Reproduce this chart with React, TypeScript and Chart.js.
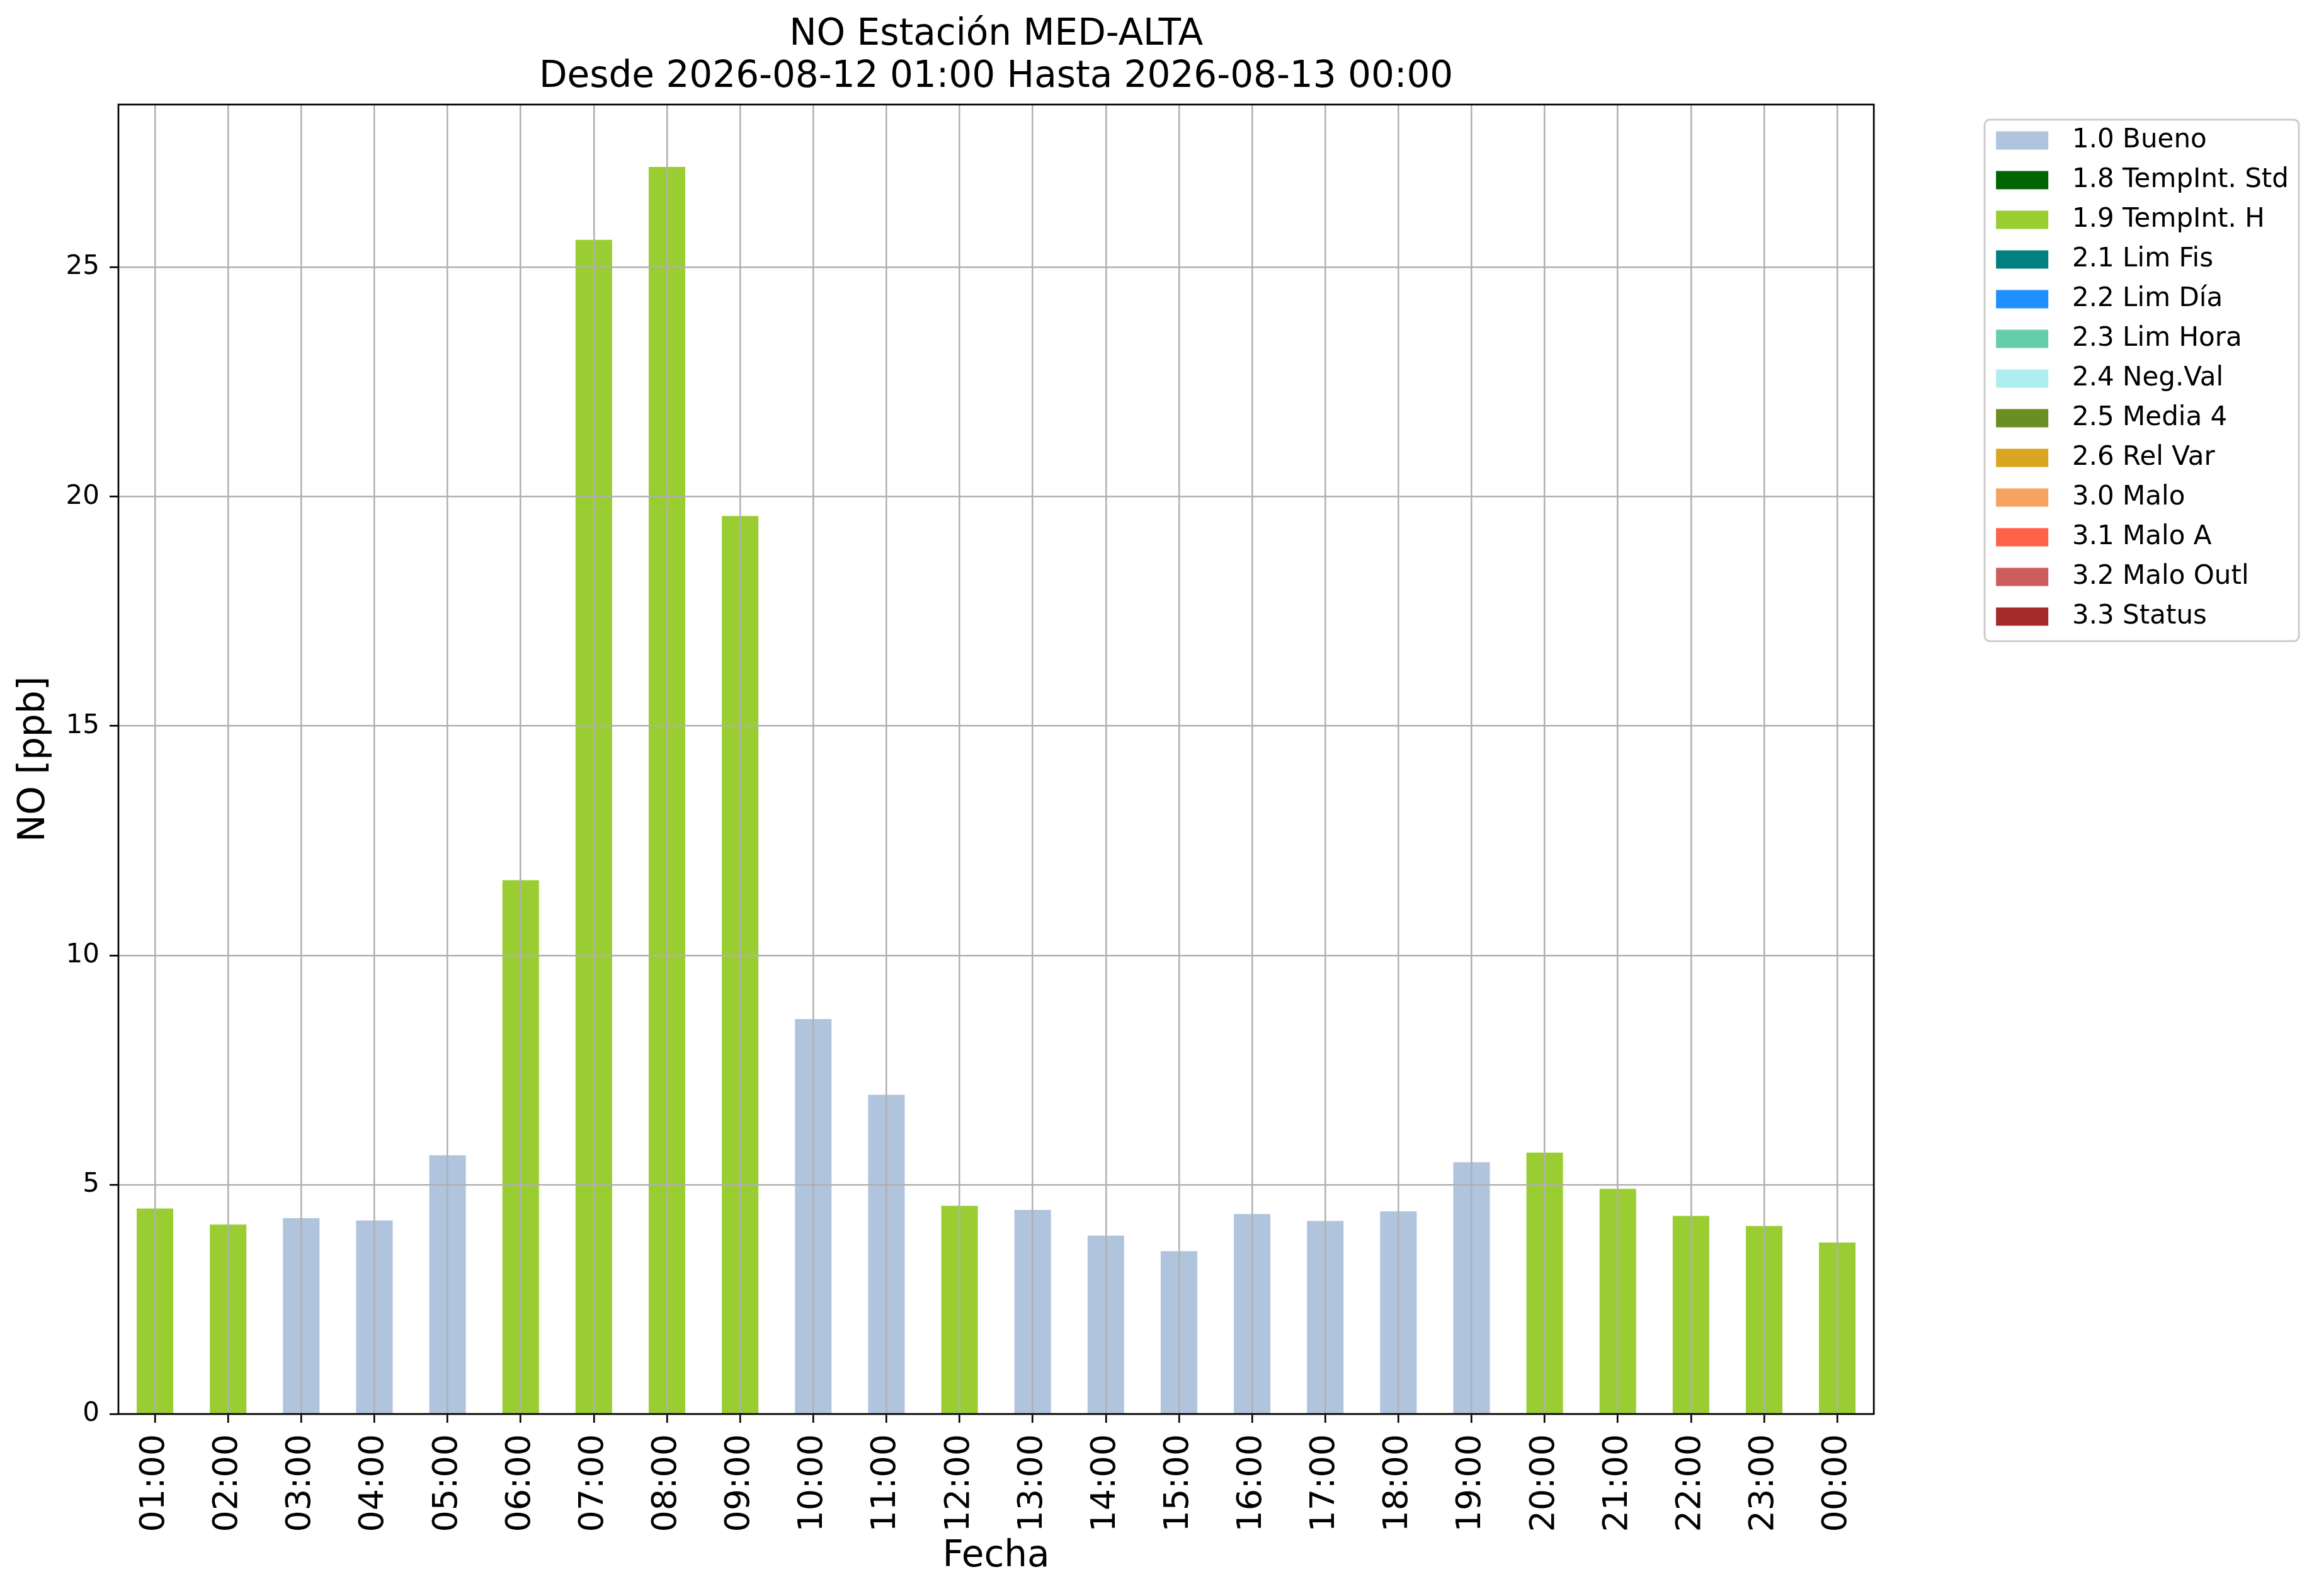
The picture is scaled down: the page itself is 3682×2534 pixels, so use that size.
import React, { useEffect, useRef } from 'react';
import { Chart, registerables } from 'chart.js';

Chart.register(...registerables);

// --- data ---
const hours = [
  '01:00', '02:00', '03:00', '04:00', '05:00', '06:00', '07:00', '08:00',
  '09:00', '10:00', '11:00', '12:00', '13:00', '14:00', '15:00', '16:00',
  '17:00', '18:00', '19:00', '20:00', '21:00', '22:00', '23:00', '00:00',
];
const noValues = [
  4.48, 4.13, 4.27, 4.22, 5.64, 11.64, 25.6, 27.19,
  19.58, 8.61, 6.96, 4.54, 4.45, 3.89, 3.55, 4.36,
  4.21, 4.42, 5.49, 5.7, 4.91, 4.32, 4.1, 3.74,
];
// validation flag of each hour
const hourFlags = [
  '1.9', '1.9', '1.0', '1.0', '1.0', '1.9', '1.9', '1.9',
  '1.9', '1.0', '1.0', '1.9', '1.0', '1.0', '1.0', '1.0',
  '1.0', '1.0', '1.0', '1.9', '1.9', '1.9', '1.9', '1.9',
];
const flagCodes = ['1.0', '1.8', '1.9', '2.1', '2.2', '2.3', '2.4', '2.5', '2.6', '3.0', '3.1', '3.2', '3.3'];
const flagNames = [
  '1.0 Bueno', '1.8 TempInt. Std', '1.9 TempInt. H', '2.1 Lim Fis', '2.2 Lim Día',
  '2.3 Lim Hora', '2.4 Neg.Val', '2.5 Media 4', '2.6 Rel Var', '3.0 Malo',
  '3.1 Malo A', '3.2 Malo Outl', '3.3 Status',
];
const flagColors = [
  '#B0C4DE', '#006400', '#9ACD32', '#008080', '#1E90FF', '#66CDAA', '#AFEEEE',
  '#6B8E23', '#DAA520', '#F4A460', '#FF6347', '#CD5C5C', '#A52A2A',
];
const yTicks = [0, 5, 10, 15, 20, 25];
const yMax = 28.55;

const FONT = "'DejaVu Sans', sans-serif";

// matplotlib-like frame: axes spines + rounded legend box
const framePlugin = {
  id: 'mplFrame',
  afterDraw(chart: any) {
    const { ctx, chartArea: a, legend } = chart;
    ctx.save();
    ctx.strokeStyle = '#000';
    ctx.lineWidth = 2.7;
    ctx.strokeRect(a.left, a.top, a.right - a.left, a.bottom - a.top);

    const hb = legend && legend.legendHitBoxes;
    if (hb && hb.length) {
      const first = hb[0];
      const last = hb[hb.length - 1];
      const right = Math.max(...hb.map((h: any) => h.left + h.width));
      const x0 = first.left - 18;
      const y0 = first.top - 12;
      const x1 = right + 16;
      const y1 = last.top + last.height + 18;
      ctx.strokeStyle = '#cccccc';
      ctx.lineWidth = 3;
      ctx.beginPath();
      ctx.roundRect(x0, y0, x1 - x0, y1 - y0, 8);
      ctx.stroke();
    }
    ctx.restore();
  },
};

export default function App() {
  const canvasRef = useRef<HTMLCanvasElement | null>(null);

  useEffect(() => {
    if (!canvasRef.current) return;
    Chart.defaults.font.family = FONT;
    Chart.defaults.color = '#000';

    const datasets = flagCodes.map((code, k) => ({
      label: flagNames[k],
      data: noValues.map((v, i) => (hourFlags[i] === code ? v : null)),
      backgroundColor: flagColors[k],
      borderWidth: 0,
      barPercentage: 0.5,
      categoryPercentage: 1.0,
    }));

    const chart = new Chart(canvasRef.current, {
      type: 'bar',
      data: { labels: hours, datasets },
      plugins: [framePlugin],
      options: {
        animation: false,
        responsive: false,
        devicePixelRatio: 1,
        layout: { padding: { left: 0, top: 0, right: 38, bottom: 0 } },
        scales: {
          x: {
            stacked: true,
            offset: true,
            afterFit: (s: any) => { s.height = 289; },
            grid: {
              offset: false,
              color: '#b0b0b0',
              lineWidth: 2.5,
              tickColor: '#000',
              tickWidth: 2.7,
              tickLength: 14,
              z: 1,
            },
            border: { display: false },
            ticks: {
              autoSkip: false,
              minRotation: 90,
              maxRotation: 90,
              padding: 18,
              color: '#000',
              font: { size: 54 },
            },
            title: {
              display: true,
              text: 'Fecha',
              color: '#000',
              font: { size: 58, lineHeight: 1.2 },
              padding: { top: 0, bottom: 27 },
            },
          },
          y: {
            stacked: true,
            min: 0,
            max: yMax,
            afterFit: (s: any) => { s.width = 188; },
            afterBuildTicks: (s: any) => { s.ticks = yTicks.map((v) => ({ value: v })); },
            grid: {
              color: '#b0b0b0',
              lineWidth: 2.5,
              tickColor: '#000',
              tickWidth: 2.7,
              tickLength: 14,
              z: 1,
            },
            border: { display: false },
            ticks: {
              padding: 16,
              color: '#000',
              font: { size: 42 },
            },
            title: {
              display: true,
              text: 'NO [ppb]',
              color: '#000',
              font: { size: 58, lineHeight: 1.2 },
              padding: { top: 20, bottom: 0 },
            },
          },
          // empty right axis: only keeps the gap between the plot and the legend
          gap: {
            type: 'linear',
            position: 'right',
            display: true,
            afterFit: (s: any) => { s.width = 173; },
            grid: { display: false, drawTicks: false },
            border: { display: false },
            ticks: { display: false },
          },
        },
        plugins: {
          title: {
            display: true,
            fullSize: false,
            text: ['NO Estación MED-ALTA', 'Desde 2026-08-12 01:00 Hasta 2026-08-13 00:00'],
            color: '#000',
            font: { size: 58, weight: 'normal', lineHeight: 67 / 58 },
            padding: { top: 22.5, bottom: 9.5 },
          },
          legend: {
            display: true,
            position: 'right',
            align: 'start',
            fullSize: false,
            title: {
              display: true,
              text: '',
              font: { size: 10, lineHeight: 1 },
              padding: { top: 5, bottom: 0 },
            },
            labels: {
              boxWidth: 83,
              boxHeight: 29,
              padding: 21,
              color: '#000',
              font: { size: 42 },
              generateLabels: (c: any) =>
                c.data.datasets.map((ds: any, i: number) => ({
                  text: '\u2009\u2009' + ds.label,
                  fillStyle: ds.backgroundColor,
                  strokeStyle: ds.backgroundColor,
                  lineWidth: 0,
                  hidden: false,
                  datasetIndex: i,
                })),
            },
          },
          tooltip: { enabled: false },
        },
      } as any,
    });

    return () => {
      chart.destroy();
    };
  }, []);

  return (
    <div style={{ position: 'absolute', left: 0, top: 0, width: 3682, height: 2534, background: '#fff' }}>
      <canvas ref={canvasRef} width={3682} height={2534} style={{ width: 3682, height: 2534, display: 'block' }} />
    </div>
  );
}
